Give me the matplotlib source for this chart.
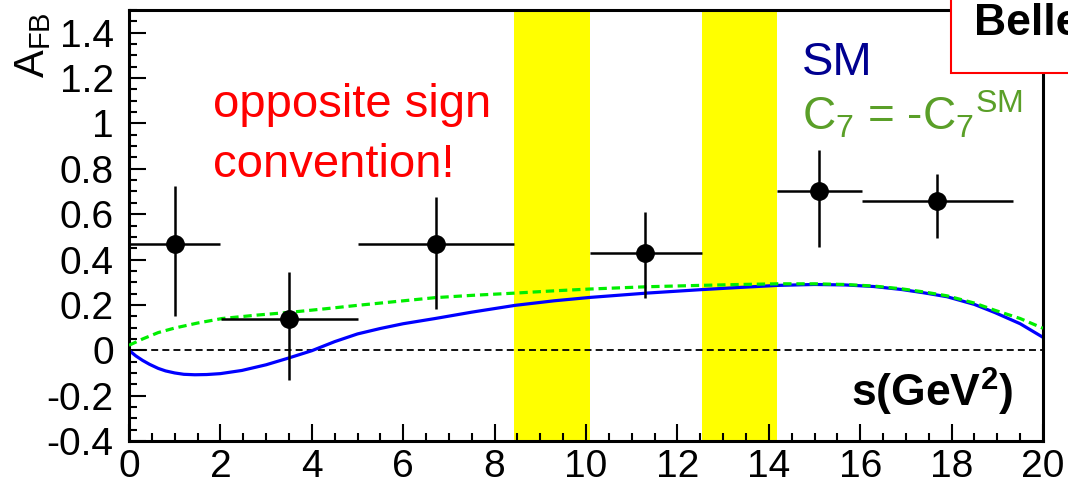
import matplotlib
matplotlib.use("Agg")
import matplotlib.pyplot as plt
from matplotlib.patches import Rectangle
from matplotlib.ticker import MultipleLocator, FixedLocator

plt.rcParams['font.family'] = ['Liberation Sans', 'DejaVu Sans']
plt.rcParams['mathtext.fontset'] = 'custom'
plt.rcParams['mathtext.rm'] = 'Liberation Sans'
plt.rcParams['mathtext.it'] = 'Liberation Sans:italic'
plt.rcParams['mathtext.bf'] = 'Liberation Sans:bold'
plt.rcParams['mathtext.default'] = 'regular'
plt.rcParams['lines.scale_dashes'] = False

# ---- data ----
pt_x = [1.0, 3.5, 6.72, 11.3, 15.1, 17.68]
pt_y = [0.47, 0.14, 0.469, 0.428, 0.70, 0.66]
pt_x_lo = [0.0, 2.02, 5.01, 10.09, 14.17, 16.04]
pt_x_hi = [2.0, 5.01, 8.43, 12.53, 16.04, 19.34]
pt_y_lo = [0.151, -0.132, 0.18, 0.232, 0.457, 0.497]
pt_y_hi = [0.725, 0.343, 0.674, 0.608, 0.884, 0.778]

sm_x = [0, 0.15, 0.3, 0.45, 0.64, 0.8, 1.0, 1.2, 1.44, 1.7, 2.0, 2.47, 3.0, 3.48,
        4.0, 4.5, 5.0, 5.5, 6.0, 6.7, 7.5, 8.45, 9.3, 10.09, 11.33, 12.5, 13.37,
        14.2, 15.0, 15.67, 16.3, 16.9, 17.4, 17.9, 18.5, 18.95, 19.5, 20]
sm_y = [0.0, -0.025, -0.045, -0.062, -0.08, -0.091, -0.10, -0.106, -0.108,
        -0.107, -0.103, -0.089, -0.064, -0.035, -0.002, 0.038, 0.072, 0.096,
        0.117, 0.14, 0.168, 0.198, 0.218, 0.233, 0.252, 0.267, 0.277, 0.286,
        0.29, 0.288, 0.281, 0.268, 0.253, 0.236, 0.202, 0.166, 0.117, 0.057]

flip_x = [0, 0.3, 0.64, 1.0, 1.5, 2.04, 2.8, 3.56, 4.3, 5.0, 6.0, 6.7, 7.5, 8.45,
          9.3, 10.09, 11.33, 12.5, 13.37, 14.2, 15.0, 15.67, 16.3, 16.9, 17.4,
          17.9, 18.5, 18.95, 19.5, 20]
flip_y = [0.022, 0.05, 0.078, 0.098, 0.12, 0.14, 0.155, 0.168, 0.183, 0.198,
          0.218, 0.232, 0.242, 0.252, 0.262, 0.27, 0.28, 0.286, 0.29, 0.293,
          0.293, 0.29, 0.283, 0.271, 0.257, 0.24, 0.208, 0.176, 0.14, 0.097]

veto_lo = [8.43, 12.53]
veto_hi = [10.09, 14.17]

x_ticks = [0, 2, 4, 6, 8, 10, 12, 14, 16, 18, 20]
y_ticks = [-0.4, -0.2, 0, 0.2, 0.4, 0.6, 0.8, 1, 1.2, 1.4]
y_tick_labels = ['-0.4', '-0.2', '0', '0.2', '0.4', '0.6', '0.8', '1', '1.2', '1.4']

W, H = 1068, 487
fig = plt.figure(figsize=(W / 100, H / 100), dpi=100)

def fx(px):
    return px / W

def fy(py):
    return 1 - py / H

ax = fig.add_axes([fx(129), fy(441), fx(1043) - fx(129), fy(10) - fy(441)])
ax.set_xlim(0, 20)
ax.set_ylim(-0.4, 1.5)

for lo, hi in zip(veto_lo, veto_hi):
    ax.axvspan(lo, hi, color='#ffff00', lw=0, zorder=0)

ax.plot([0, 20], [0, 0], color='black', lw=1.3, dashes=(5, 3), zorder=2)
ax.plot(sm_x, sm_y, color='#0000ff', lw=2.3, zorder=2.5, solid_joinstyle='round')
ax.plot(flip_x, flip_y, color='#00ee00', lw=2.3, dashes=(6, 3.5), zorder=3)

xerr = [[x - lo for x, lo in zip(pt_x, pt_x_lo)], [hi - x for x, hi in zip(pt_x, pt_x_hi)]]
yerr = [[y - lo for y, lo in zip(pt_y, pt_y_lo)], [hi - y for y, hi in zip(pt_y, pt_y_hi)]]
ax.errorbar(pt_x, pt_y, xerr=xerr, yerr=yerr, fmt='o', color='black',
            ms=12.5, elinewidth=1.8, capsize=0, zorder=4)

ax.xaxis.set_major_locator(FixedLocator(x_ticks))
ax.xaxis.set_minor_locator(MultipleLocator(0.5))
ax.set_xticklabels([str(t) for t in x_ticks])
ax.yaxis.set_major_locator(FixedLocator(y_ticks))
ax.yaxis.set_minor_locator(MultipleLocator(0.05))
ax.set_yticklabels(y_tick_labels)
ax.tick_params(which='both', direction='in', top=False, right=False, width=1.5,
               labelsize=28, colors='black')
ax.tick_params(which='major', length=12)
ax.tick_params(which='minor', length=6)
ax.tick_params(axis='x', pad=6)
ax.tick_params(axis='y', pad=11)
for s in ax.spines.values():
    s.set_linewidth(2.2)

# texts
fig.text(fx(13), fy(12), r'A$_{\rm FB}$', rotation=90, ha='left', va='top', fontsize=30)
fig.text(fx(213), fy(117), 'opposite sign', color='#ff0000', fontsize=34, va='baseline')
fig.text(fx(213), fy(177), 'convention!', color='#ff0000', fontsize=34, va='baseline')
fig.text(fx(802), fy(75), 'SM', color='#000090', fontsize=34, va='baseline')
fig.text(fx(802), fy(131), r'C$_{7}$ = -C$_{7}{}^{\rm SM}$', color='#5a9f28', fontsize=33, va='baseline')
fig.text(fx(851), fy(407), r's(GeV$^{\bf 2}$)', color='black', fontsize=32, fontweight='bold', va='baseline')

fig.add_artist(Rectangle((fx(951), fy(73)), 0.2, 0.2, transform=fig.transFigure,
                         facecolor='white', edgecolor='#ff0000', lw=1.5, zorder=10, clip_on=False))
fig.text(fx(974), fy(35), 'Belle', color='black', fontsize=32, fontweight='bold',
         va='baseline', zorder=11)

fig.savefig('out.png', dpi=100)
